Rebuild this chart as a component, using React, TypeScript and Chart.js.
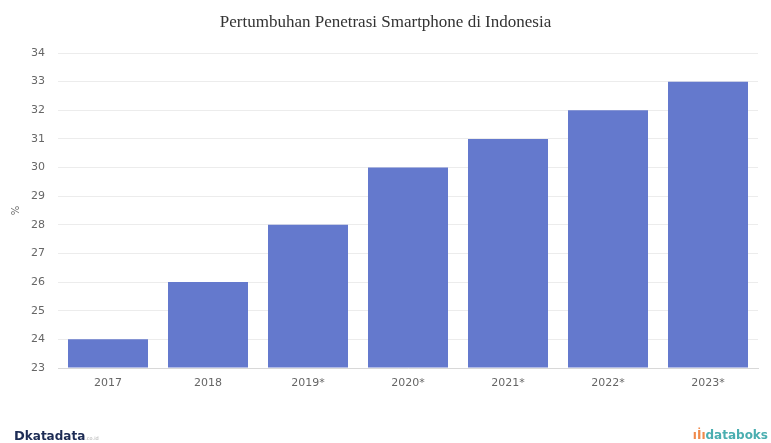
import React, { useEffect, useRef } from "react";
import { Chart, registerables } from "chart.js";

Chart.register(...registerables);

const categories = ["2017", "2018", "2019*", "2020*", "2021*", "2022*", "2023*"];
const values = [24, 26, 28, 30, 31, 32, 33];
const yMin = 23;
const yMax = 34;
const chartTitle = "Pertumbuhan Penetrasi Smartphone di Indonesia";
const yTitle = "%";

export default function App() {
  const ref = useRef<HTMLCanvasElement | null>(null);

  useEffect(() => {
    if (!ref.current) return;
    const chart = new Chart(ref.current, {
      type: "bar",
      data: {
        labels: categories,
        datasets: [
          {
            data: values,
            backgroundColor: "#6479cd",
            barPercentage: 0.8,
            categoryPercentage: 1,
            base: yMin,
          },
        ],
      },
      options: {
        animation: false,
        responsive: false,
        maintainAspectRatio: false,
        layout: { padding: { top: 53, left: 0, right: 13, bottom: 45 } },
        plugins: {
          legend: { display: false },
          tooltip: { enabled: false },
          title: { display: false },
        },
        scales: {
          x: {
            grid: { display: false, drawTicks: false },
            border: { display: true, color: "#d8d8d8" },
            ticks: {
              color: "#666",
              font: { family: "'DejaVu Sans', sans-serif", size: 11 },
              padding: 9,
            },
            afterFit: (s: any) => {
              s.height = 30;
            },
          },
          y: {
            min: yMin,
            max: yMax,
            grid: { color: "#ececec", drawTicks: false },
            border: { display: false },
            ticks: {
              stepSize: 1,
              color: "#666",
              font: { family: "'DejaVu Sans', sans-serif", size: 11 },
              padding: 13,
            },
            title: {
              display: true,
              text: yTitle,
              color: "#666",
              font: { family: "'DejaVu Sans', sans-serif", size: 10 },
              padding: { top: 10, bottom: 0 },
            },
            afterFit: (s: any) => {
              s.width = 58;
            },
          },
        },
      },
    });
    return () => chart.destroy();
  }, []);

  return (
    <div
      style={{
        position: "absolute",
        left: 0,
        top: 0,
        width: 771,
        height: 443,
        background: "#fff",
        overflow: "hidden",
      }}
    >
      <canvas ref={ref} width={771} height={443} style={{ position: "absolute", left: 0, top: 0 }} />
      <div
        style={{
          position: "absolute",
          left: 0,
          top: 12,
          width: 771,
          textAlign: "center",
          fontFamily: "'Liberation Serif', 'DejaVu Serif', serif",
          fontSize: 17,
          color: "#333",
        }}
      >
        {chartTitle}
      </div>
      <div
        style={{
          position: "absolute",
          left: 14,
          top: 428,
          fontFamily: "'DejaVu Sans', sans-serif",
          fontWeight: "bold",
          color: "#1d2c55",
          fontSize: 12,
          whiteSpace: "nowrap",
        }}
      >
        <span style={{ fontSize: 13 }}>D</span>katadata
        <span style={{ fontSize: 5, color: "#aaa", fontWeight: "normal" }}>.co.id</span>
      </div>
      <div
        style={{
          position: "absolute",
          right: 3,
          top: 428,
          fontFamily: "'DejaVu Sans', sans-serif",
          fontWeight: "bold",
          color: "#4aaeb0",
          fontSize: 12,
          whiteSpace: "nowrap",
        }}
      >
        <span style={{ color: "#f08a4b" }}>ıİı</span>databoks
      </div>
    </div>
  );
}
